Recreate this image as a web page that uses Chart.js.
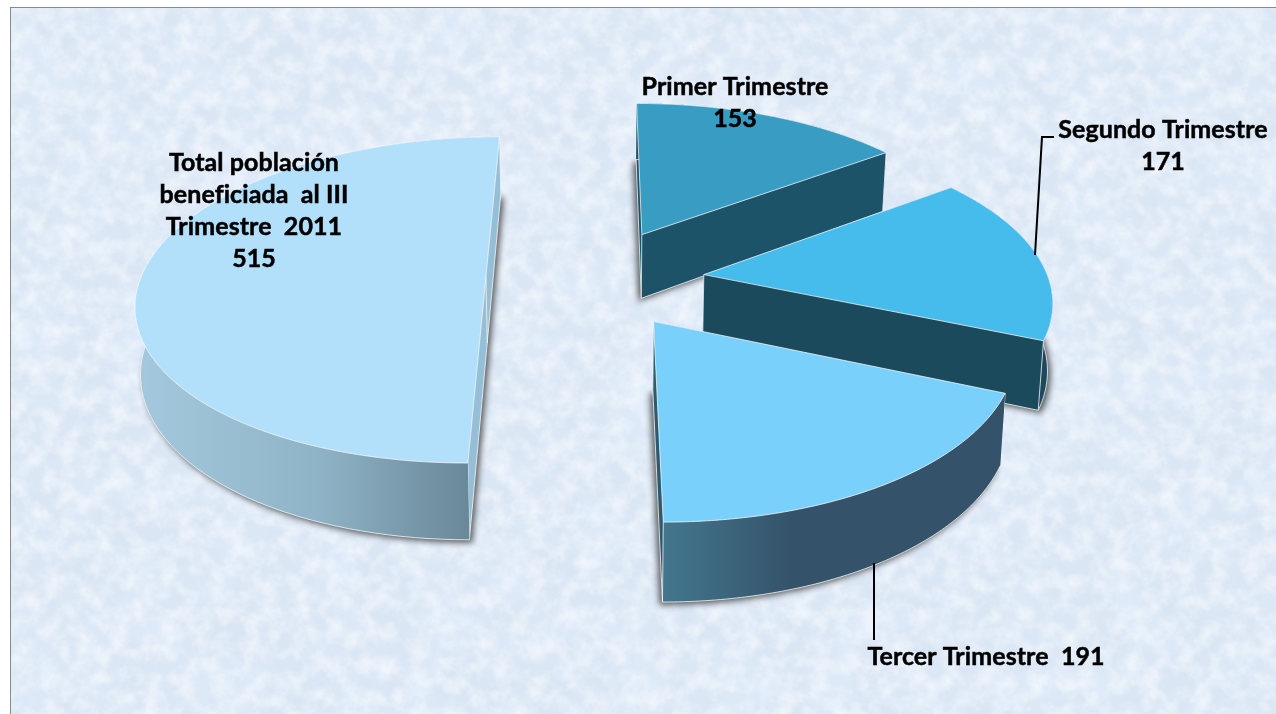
<!DOCTYPE html>
<html><head><meta charset="utf-8">
<script src="https://cdn.jsdelivr.net/npm/chart.js@4/dist/chart.umd.js"></script>
<style>
html,body{margin:0;padding:0;background:#fff;width:1276px;height:714px;overflow:hidden}
#bg{position:absolute;left:10px;top:7px;width:1266px;height:707px;border-top:1px solid #8a8a8a;border-left:1px solid #8a8a8a;box-sizing:border-box;background-color:#dae6f4;
background-image:url("data:image/svg+xml;utf8,<svg xmlns='http://www.w3.org/2000/svg' width='1266' height='707'><filter id='a' x='0' y='0' width='100%25' height='100%25'><feTurbulence type='fractalNoise' baseFrequency='0.06' numOctaves='4' seed='7'/><feColorMatrix values='0 0 0 0 0.95  0 0 0 0 0.97  0 0 0 0 1  1.3 0 0 0 -0.45'/></filter><filter id='b' x='0' y='0' width='100%25' height='100%25'><feTurbulence type='fractalNoise' baseFrequency='0.02' numOctaves='3' seed='3'/><feColorMatrix values='0 0 0 0 0.76  0 0 0 0 0.85  0 0 0 0 0.97  1.4 0 0 0 -0.55'/></filter><rect width='100%25' height='100%25' filter='url(%23b)'/><rect width='100%25' height='100%25' filter='url(%23a)'/></svg>");}
#wrap{position:absolute;left:0;top:0;width:1276px;height:714px}
</style></head><body>
<div id="bg"></div>
<div id="wrap"><canvas id="c" width="1276" height="714"></canvas></div>
<script>
const categories=['Primer Trimestre','Segundo Trimestre','Tercer Trimestre','Total población beneficiada al III Trimestre 2011'];
const values=[153,171,191,515];
const sliceOffsets=[90,90,90,99];
const sliceNudges=[[-2,-2],[4,3],[-4,4],[-3,0]];
const topColors=['#399cc3','#45bceb','#79d1fb','#b2e0fb'];
const wallStops=[['#1d5369','#1d5369'],['#1c4a5d','#1c4a5d'],['#43778e','#34536a','#34536a'],['#a4c9de','#8fb3c6','#627f90']];
const radialColors=['#1d5369','#1c4a5d','#2c5a70','#94bfd6'];
const labelLines=[['Primer Trimestre','153'],['Segundo Trimestre','171'],['Tercer Trimestre  191'],['Total población','beneficiada  al III','Trimestre  2011','515']];
const labelAnchors=[[735,87],[1163,130],[986,657],[254,163]];
const leaderPaths=[[[1035,255],[1042,137],[1054,137]],[[874,563],[874,640]]];
const view={cx:600,cy:277,R:345,K:160,p:0.14,H:66,q:0.012};
function project(u,v,z,n){
  const w=1+view.p*v, sh=1-view.q*z;
  return [view.cx+view.R*u/w*sh+n[0], view.cy-view.K*v/w+view.H*z/w+n[1]];
}
function poly(ctx,pts){ctx.beginPath();pts.forEach((p,i)=>i?ctx.lineTo(p[0],p[1]):ctx.moveTo(p[0],p[1]));ctx.closePath();}
const pie3d={id:'pie3d',
 beforeDatasetsDraw(chart){
  const ctx=chart.ctx, arcs=chart.getDatasetMeta(0).data;
  [0,1,3,2].forEach(i=>{
    const a=arcs[i].getProps(['startAngle','endAngle','outerRadius','x','y'],true);
    const off=arcs[i].options.offset/a.outerRadius, nd=sliceNudges[i];
    const s=a.startAngle+Math.PI/2, e=a.endAngle+Math.PI/2, m=(s+e)/2;
    const u0=off*Math.sin(m), v0=off*Math.cos(m);
    const rim=[];for(let k=0;k<=90;k++){const t=s+(e-s)*k/90;rim.push([u0+Math.sin(t),v0+Math.cos(t)]);}
    const top=rim.map(q=>project(q[0],q[1],0,nd)), bot=rim.map(q=>project(q[0],q[1],1,nd));
    const ap=project(u0,v0,0,nd), apB=project(u0,v0,1,nd);
    const n=rim.length-1;
    ctx.save();ctx.shadowColor='rgba(40,40,40,.75)';ctx.shadowBlur=6;ctx.shadowOffsetX=i==0||i==2?-3:3;ctx.shadowOffsetY=3;
    ctx.fillStyle='#777';
    poly(ctx,[apB].concat(bot));ctx.fill();
    ctx.restore();
    ctx.strokeStyle='rgba(255,255,255,.75)';ctx.lineWidth=1;
    const radial=r=>{
      poly(ctx,[ap,r[0],r[1],apB]);ctx.fillStyle=radialColors[i];ctx.fill();
      ctx.beginPath();ctx.moveTo(apB[0],apB[1]);ctx.lineTo(r[1][0],r[1][1]);ctx.lineTo(r[0][0],r[0][1]);ctx.stroke();
    };
    radial([top[0],bot[0]]);
    const xs=top.concat(bot).map(p=>p[0]);
    const g=ctx.createLinearGradient(Math.min(...xs),0,Math.max(...xs),0);
    wallStops[i].forEach((c,k)=>g.addColorStop(i==2&&k==1?0.38:k/(wallStops[i].length-1),c));
    poly(ctx,top.concat(bot.slice().reverse()));ctx.fillStyle=g;ctx.fill();
    ctx.beginPath();bot.forEach((p,k)=>k?ctx.lineTo(p[0],p[1]):ctx.moveTo(p[0],p[1]));ctx.stroke();
    radial([top[n],bot[n]]);
    ctx.beginPath();ctx.moveTo(ap[0],ap[1]);ctx.lineTo(apB[0],apB[1]);ctx.stroke();
    poly(ctx,[ap].concat(top));ctx.fillStyle=arcs[i].options.backgroundColor;ctx.fill();
    ctx.strokeStyle='rgba(255,255,255,.7)';ctx.stroke();
  });
  ctx.save();ctx.strokeStyle='#000';ctx.lineWidth=2;
  leaderPaths.forEach(pth=>{ctx.beginPath();pth.forEach((p,k)=>k?ctx.lineTo(p[0],p[1]):ctx.moveTo(p[0],p[1]));ctx.stroke();});
  ctx.fillStyle='#000';ctx.strokeStyle='#000';ctx.lineWidth=0.5;ctx.font='bold 25px Lato';ctx.letterSpacing='0.08px';ctx.textAlign='center';ctx.textBaseline='middle';
  labelLines.forEach((ls,i)=>ls.forEach((t,k)=>{const y=labelAnchors[i][1]+k*32;ctx.fillText(t,labelAnchors[i][0],y);ctx.strokeText(t,labelAnchors[i][0],y);}));
  ctx.restore();
  return false;
 }};
new Chart(document.getElementById('c'),{type:'pie',
 data:{labels:categories,datasets:[{data:values,backgroundColor:topColors,offset:sliceOffsets,borderWidth:0,hoverOffset:0}]},
 options:{responsive:false,animation:false,rotation:0,layout:{padding:0},
  plugins:{legend:{display:false},tooltip:{enabled:false}}},
 plugins:[pie3d]});
</script>
</body></html>
